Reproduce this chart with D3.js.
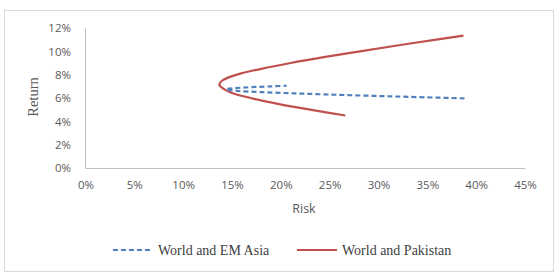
<!DOCTYPE html>
<html>
<head>
<meta charset="utf-8">
<script src="https://cdn.jsdelivr.net/npm/d3@7"></script>
<style>
  html, body { margin: 0; padding: 0; background: #fff; }
  svg { display: block; }
</style>
</head>
<body>
<div id="chart"></div>
<script>
// Efficient frontier points (risk, return in %)
const pakRisk = [26.6, 23.0, 19.7, 16.9, 14.8, 13.8, 13.7, 14.0, 15.5, 18.0, 21.0, 24.4, 28.1, 31.9, 35.9, 38.7];
const pakReturn = [4.5, 5.0, 5.5, 6.0, 6.5, 7.0, 7.15, 7.5, 8.0, 8.5, 9.0, 9.5, 10.0, 10.5, 11.0, 11.35];

const asiaRisk = [38.8, 33.0, 28.8, 24.9, 21.3, 18.1, 15.7, 14.5, 14.4, 14.7, 16.3, 19.0, 20.6];
const asiaReturn = [5.97, 6.1, 6.2, 6.3, 6.4, 6.5, 6.6, 6.7, 6.735, 6.8, 6.9, 7.0, 7.05];

const xTicks = [0, 5, 10, 15, 20, 25, 30, 35, 40, 45];
const yTicks = [0, 2, 4, 6, 8, 10, 12];

const seriesNames = ["World and EM Asia", "World and Pakistan"];
const seriesColors = ["#4f81bd", "#c0504d"];

const W = 558, H = 279;
const svg = d3.select("#chart").append("svg")
  .attr("width", W)
  .attr("height", H);

// outer chart border
svg.append("rect")
  .attr("x", 4.5).attr("y", 10.5)
  .attr("width", 549).attr("height", 261)
  .attr("fill", "#fff")
  .attr("stroke", "#d9d9d9");

const x = d3.scaleLinear().domain([0, 45]).range([85.5, 525]);
const y = d3.scaleLinear().domain([0, 12]).range([168, 28]);

const tickFont = "'Open Sans', 'Liberation Sans', sans-serif";

// axes
const xAxis = svg.append("g")
  .attr("transform", "translate(0,168)")
  .call(d3.axisBottom(x).tickValues(xTicks).tickSize(0).tickPadding(13)
    .tickFormat(d => d + "%"));
const yAxis = svg.append("g")
  .attr("transform", "translate(85,0)")
  .call(d3.axisLeft(y).tickValues(yTicks).tickSize(0).tickPadding(14)
    .tickFormat(d => d + "%"));

[xAxis, yAxis].forEach(g => {
  g.select(".domain").attr("stroke", "#bfbfbf");
  g.selectAll("text")
    .attr("fill", "#595959")
    .style("font-family", tickFont)
    .style("font-size", "11.5px");
});

svg.append("text")
  .attr("x", 304).attr("y", 213)
  .attr("text-anchor", "middle")
  .attr("fill", "#595959")
  .style("font-family", tickFont)
  .style("font-size", "12.5px")
  .text("Risk");

svg.append("text")
  .attr("transform", "translate(38,97) rotate(-90)")
  .attr("text-anchor", "middle")
  .attr("fill", "#595959")
  .style("font-family", "'Liberation Serif', serif")
  .style("font-size", "14.5px")
  .text("Return");

const line = d3.line()
  .x(d => x(d[0]))
  .y(d => y(d[1]))
  .curve(d3.curveCatmullRom);

const asiaData = asiaRisk.map((r, i) => [r, asiaReturn[i]]);
const pakData = pakRisk.map((r, i) => [r, pakReturn[i]]);

svg.append("path")
  .datum(pakData)
  .attr("d", line)
  .attr("fill", "none")
  .attr("stroke", seriesColors[1])
  .attr("stroke-width", 2.2);

svg.append("path")
  .datum(asiaData)
  .attr("d", line)
  .attr("fill", "none")
  .attr("stroke", seriesColors[0])
  .attr("stroke-width", 2.2)
  .attr("stroke-dasharray", "5,3");

// legend
const legendX = [113, 297];
const legend = svg.selectAll(".legend-item")
  .data(seriesNames)
  .enter()
  .append("g")
  .attr("class", "legend-item")
  .attr("transform", (d, i) => `translate(${legendX[i]},250)`);

legend.append("line")
  .attr("x1", 0).attr("x2", 40)
  .attr("y1", 0).attr("y2", 0)
  .attr("stroke", (d, i) => seriesColors[i])
  .attr("stroke-width", 2.2)
  .attr("stroke-dasharray", (d, i) => i === 0 ? "5,3" : null);

legend.append("text")
  .attr("x", 45).attr("y", 4.5)
  .attr("fill", "#404040")
  .style("font-family", "'Liberation Serif', serif")
  .style("font-size", "14px")
  .text(d => d);
</script>
</body>
</html>
